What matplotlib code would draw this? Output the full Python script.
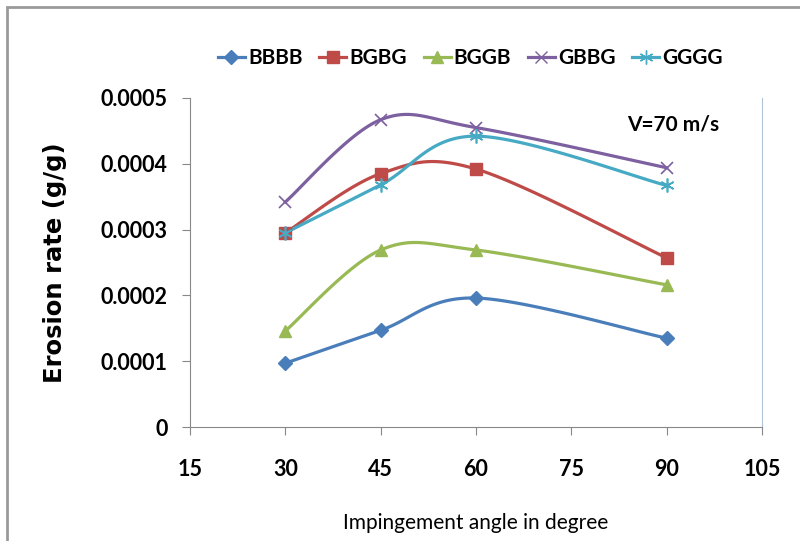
import numpy as np
import matplotlib
matplotlib.use("Agg")
import matplotlib.pyplot as plt
from matplotlib.patches import Rectangle

angle = [30, 45, 60, 90]
bbbb = [0.000097, 0.000147, 0.000196, 0.000135]
bgbg = [0.000295, 0.000385, 0.000392, 0.000257]
bggb = [0.000146, 0.000269, 0.000269, 0.000216]
gbbg = [0.000342, 0.000467, 0.000455, 0.000394]
gggg = [0.000295, 0.000368, 0.000442, 0.000367]

series = [("BBBB", bbbb, "#4A7EBB", "D", 7),
          ("BGBG", bgbg, "#BE4B48", "s", 9),
          ("BGGB", bggb, "#98B954", "^", 9),
          ("GBBG", gbbg, "#7D60A0", "x", 9),
          ("GGGG", gggg, "#46AAC5", (6, 2, 0), 10)]


def smooth(xs, ys, n=40):
    # Excel-style smoothed line (Catmull-Rom as cubic Bezier)
    p = np.column_stack([xs, ys]).astype(float)
    p = np.vstack([p[0], p, p[-1]])
    t = np.linspace(0, 1, n)[:, None]
    out = []
    for i in range(1, len(p) - 2):
        a, b = p[i], p[i + 1]
        c1 = a + (p[i + 1] - p[i - 1]) / 6
        c2 = b - (p[i + 2] - p[i]) / 6
        seg = ((1 - t) ** 3) * a + 3 * ((1 - t) ** 2) * t * c1 + 3 * (1 - t) * t ** 2 * c2 + t ** 3 * b
        out.append(seg)
    out = np.vstack(out)
    return out[:, 0], out[:, 1]


narrow = ["Lato", "DejaVu Sans"]

fig = plt.figure(figsize=(8, 5.41), dpi=100)
ax = fig.add_axes([0.2375, 0.2107, 0.715, 0.6082])

for name, vals, col, mk, ms in series:
    sx, sy = smooth(angle, vals)
    ax.plot(sx, sy, color=col, lw=2.3, zorder=2)
    ax.plot(angle, vals, ls="none", marker=mk, color=col, ms=ms,
            mew=1.2 if mk in ("x",) or isinstance(mk, tuple) else 1, zorder=3)
    ax.plot([], [], color=col, lw=2.3, marker=mk, ms=ms, label=name)

ax.set_xlim(15, 105)
ax.set_ylim(0, 0.0005)
ax.set_xticks([15, 30, 45, 60, 75, 90, 105])
ax.set_yticks([0, 0.0001, 0.0002, 0.0003, 0.0004, 0.0005])
ax.set_yticklabels(["0", "0.0001", "0.0002", "0.0003", "0.0004", "0.0005"])

for s in ["left", "bottom"]:
    ax.spines[s].set_color("#888888")
ax.spines["right"].set_color("#b0c4d8")
ax.spines["top"].set_visible(False)
ax.tick_params(axis="both", direction="out", length=6, color="#888888")
ax.tick_params(axis="x", pad=17)
ax.tick_params(axis="y", pad=10)
for lb in ax.get_xticklabels() + ax.get_yticklabels():
    lb.set_fontfamily(narrow)
    lb.set_fontsize(15.5)
    lb.set_fontweight("bold")

ax.set_xlabel("Impingement angle in degree", fontsize=15, family=narrow, labelpad=24)
ax.set_ylabel("Erosion rate (g/g)", fontsize=17.5, fontweight="bold", labelpad=24)

ax.text(0.845, 0.92, "V=70 m/s", transform=ax.transAxes, fontsize=15,
        fontweight="bold", family=narrow, ha="center", va="center")

leg = fig.legend(loc="center", bbox_to_anchor=(0.588, 0.893), ncol=5, frameon=False,
                 handlelength=1.3, handletextpad=0.15, columnspacing=0.8,
                 prop={"family": narrow, "weight": "bold", "size": 15})

fig.patches.append(Rectangle((7 / 800, -0.1), 1.2, (541 - 7) / 541 + 0.1,
                             transform=fig.transFigure, fill=False,
                             edgecolor="#9a9a9a", lw=2))

fig.savefig("out.png", dpi=100)
